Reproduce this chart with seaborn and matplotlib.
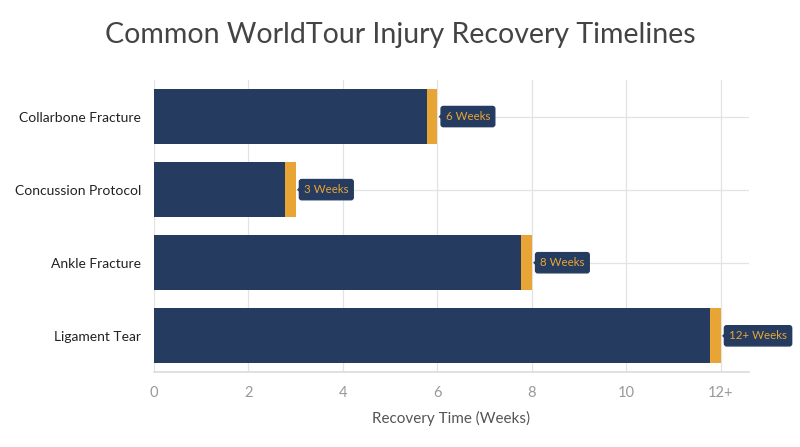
import matplotlib
matplotlib.use("Agg")
import matplotlib.pyplot as plt
import seaborn as sns
import pandas as pd

# Data
injuries = ["Collarbone Fracture", "Concussion Protocol", "Ankle Fracture", "Ligament Tear"]
weeks = [6, 3, 8, 12]
labels = ["6 Weeks", "3 Weeks", "8 Weeks", "12+ Weeks"]
xticks = [0, 2, 4, 6, 8, 10, 12]
xticklabels = ["0", "2", "4", "6", "8", "10", "12+"]

navy = "#253b60"
orange = "#e8a535"
cap = 0.22

sns.set_theme(style="whitegrid")
plt.rcParams["font.family"] = ["Lato", "DejaVu Sans"]

df = pd.DataFrame({"injury": injuries, "weeks": weeks})

fig, ax = plt.subplots(figsize=(8, 4.47), dpi=100)
fig.subplots_adjust(left=0.1925, right=0.9363, top=0.821, bottom=0.167)

# orange accent bar (full length), navy bar on top, shortened by the cap
sns.barplot(data=df, x="weeks", y="injury", color=orange, saturation=1,
            width=0.75, ax=ax, zorder=2, linewidth=0)
navy_df = df.assign(weeks=df["weeks"] - cap)
sns.barplot(data=navy_df, x="weeks", y="injury", color=navy, saturation=1,
            width=0.75, ax=ax, zorder=3, linewidth=0)

for i, (v, lab) in enumerate(zip(weeks, labels)):
    ax.annotate(lab, xy=(v, i), xytext=(6, 0), textcoords="offset points",
                va="center", ha="left", fontsize=8.3, color=orange,
                bbox=dict(boxstyle="round,pad=0.4,rounding_size=0.2",
                          fc=navy, ec=navy),
                arrowprops=dict(arrowstyle="-|>,head_length=0.3,head_width=0.3",
                                color=navy, shrinkA=0, shrinkB=1, lw=0),
                zorder=5)

ax.set_xlim(0, 12.6)
ax.set_ylim(3.5, -0.5)
ax.set_xticks(xticks)
ax.set_xticklabels(xticklabels)
ax.tick_params(axis="x", colors="#999999", labelsize=10.5)
ax.tick_params(axis="y", labelsize=10, labelcolor="#222222")
ax.set_ylabel("")
ax.set_xlabel("Recovery Time (Weeks)", fontsize=11, color="#555555", labelpad=8)
ax.grid(True, color="#e3e3e3", lw=0.9)
ax.set_axisbelow(True)
for s in ["top", "right", "left"]:
    ax.spines[s].set_visible(False)
ax.spines["bottom"].set_color("#dddddd")

fig.suptitle("Common WorldTour Injury Recovery Timelines", fontsize=20.5,
             color="#444444", y=0.95)

fig.savefig("out.png", dpi=100, facecolor="white")
